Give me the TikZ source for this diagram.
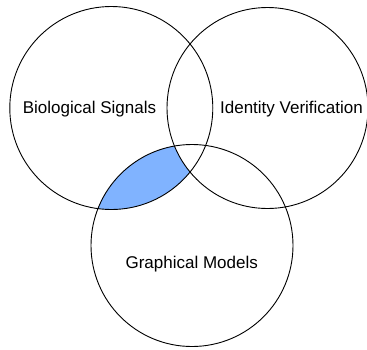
\documentclass[tikz,border=0pt]{standalone}
\usepackage{fontspec}
\setmainfont{Liberation Sans}
\definecolor{overlapblue}{HTML}{80B3FF}
\begin{document}
\begin{tikzpicture}[x=1pt,y=-1pt,
  setcircle/.style={line width=0.9pt, draw=black},
  setlabel/.style={font=\fontsize{17}{20}\selectfont, inner sep=0pt, anchor=base}]
\useasboundingbox (0,0) rectangle (367,349);
% circle centres and radii
\def\rA{101.5}
\def\rB{100.5}
\def\rC{101}
\coordinate (cbio) at (111.3,108);
\coordinate (cid) at (267.5,108);
\coordinate (cgm) at (192,245.5);
% shaded region: Biological Signals and Graphical Models, outside Identity Verification
\begin{scope}
  \clip (cbio) circle (\rA);
  \clip (cgm) circle (\rC);
  \fill[overlapblue, even odd rule] (-10,-10) rectangle (380,360) (cid) circle (\rB);
\end{scope}
\draw[setcircle] (cbio) circle (\rA);
\draw[setcircle] (cid) circle (\rB);
\draw[setcircle] (cgm) circle (\rC);
\node[setlabel] (lbio) at (89.5,113.5) {Biological Signals};
\node[setlabel] (lid) at (291.5,113.5) {Identity Verification};
\node[setlabel] (lgm) at (191.7,268.5) {Graphical Models};
\end{tikzpicture}
\end{document}
